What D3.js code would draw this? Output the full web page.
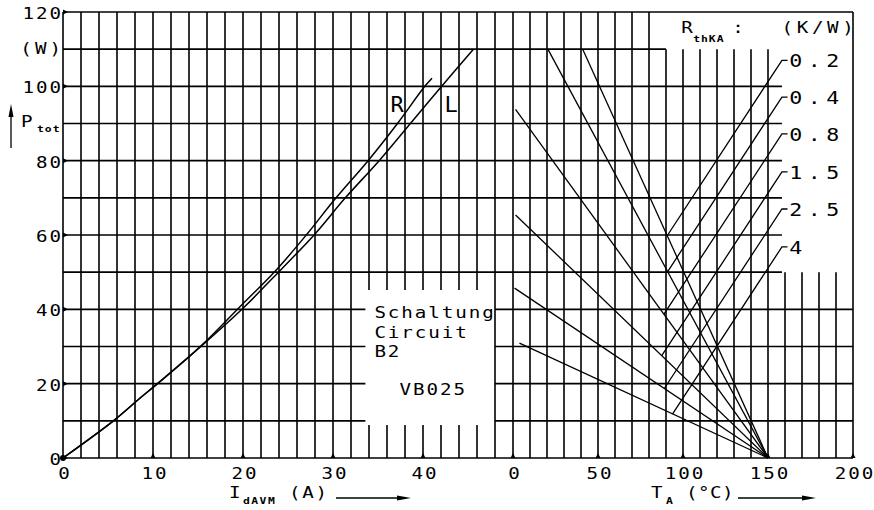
<!DOCTYPE html>
<html>
<head>
<meta charset="utf-8">
<script src="https://cdn.jsdelivr.net/npm/d3@7"></script>
<style>
  body { margin: 0; background: #fff; }
  svg text { font-family: "DejaVu Sans Mono", monospace; fill: #000; }
</style>
</head>
<body>
<svg id="chart"></svg>
<script>
var width = 874, height = 510;

// left part: I_dAVM (A), right part: T_A (deg C), shared P_tot (W)
var iTicks = [0, 10, 20, 30, 40];
var tTicks = [0, 50, 100, 150, 200];
var pTicks = [0, 20, 40, 60, 80, 100, 120];

// P_tot over I_dAVM, curves R and L
var curveRI = [0, 5.6, 8.6, 10.5, 15.4, 19.5, 23.7, 27.1, 30.2, 33.9, 37.1, 40.2, 41.0];
var curveRP = [0, 10, 16.2, 20, 30.3, 40.3, 50.6, 60.2, 69.6, 80.0, 89.8, 100.0, 102.2];
var curveLI = [0, 5.6, 8.6, 10.5, 15.4, 20.0, 24.1, 28.0, 31.3, 35.2, 38.6, 42.1, 45.6];
var curveLP = [0, 10, 16.2, 20, 30.2, 40.3, 50.4, 60.3, 69.8, 80.2, 90.0, 100.1, 110];

// R_thKA lines, all running to (150 C, 0 W)
var rthLabels = ["0.2", "0.4", "0.8", "1.5", "2.5", "4"];
var rthStartT = [41, 20.5, 1.5, 1.5, 0.9, 3.8];
var rthStartP = [110, 110, 93.8, 65.4, 45.7, 30.9];
var rthEndT = 150;
var rthLabelP = [107, 97.1, 87.2, 77, 67, 56.8];
var leaderEndT = [91, 90.9, 88.8, 87.4, 89, 93.8];
var leaderEndP = [60, 50.1, 38.7, 27.5, 18.7, 11.8];

var svg = d3.select('#chart')
  .attr('width', width)
  .attr('height', height);

var xI = d3.scaleLinear().domain([0, 50]).range([63, 513]);
var xT = d3.scaleLinear().domain([0, 200]).range([513, 853]);
var y = d3.scaleLinear().domain([0, 120]).range([458, 12]);

// plotter style text: a bit wider than the font
function label(x, yy, s, o) {
  o = o || {};
  var size = o.size || 16, ls = o.ls == null ? 1.6 : o.ls, sx = o.sx || 1.2;
  var anchor = o.anchor || 'start';
  if (anchor == 'end') x += ls * sx;
  if (anchor == 'middle') x += ls * sx / 2;
  return svg.append('text')
    .attr('transform', 'translate(' + x + ',' + yy + ') scale(' + sx + ',1)')
    .attr('font-size', size)
    .attr('letter-spacing', ls)
    .attr('text-anchor', anchor)
    .attr('font-weight', o.weight || null)
    .attr('font-family', o.family || null)
    .text(s);
}

var grid = svg.append('g')
  .attr('stroke', '#000')
  .attr('stroke-width', 1.6)
  .attr('fill', 'none');

// vertical grid, left part (every 2 A), with a hole for the text box
d3.range(0, 50, 2).forEach(function(v) {
  var segs = (v >= 34 && v <= 46) ? [[0, 8.9], [45.2, 120]] : [[0, 120]];
  segs.forEach(function(s) {
    grid.append('line')
      .attr('x1', xI(v)).attr('x2', xI(v))
      .attr('y1', y(s[0])).attr('y2', y(s[1]));
  });
});

// vertical grid, right part (every 10 C)
d3.range(0, 210, 10).forEach(function(v) {
  var top = 120;
  if (v >= 90 && v <= 150) top = 110;
  if (v >= 160 && v <= 190) top = 50;
  grid.append('line')
    .attr('x1', xT(v)).attr('x2', xT(v))
    .attr('y1', y(0)).attr('y2', y(top));
});

// horizontal grid (every 10 W)
d3.range(0, 130, 10).forEach(function(v) {
  var segs;
  if (v == 0 || v == 120) segs = [[xI(0), xT(200)]];
  else if (v <= 40) segs = [[xI(0), xI(33.6)], [xI(48), xT(200)]];
  else if (v <= 100) segs = [[xI(0), xT(158.2)]];
  else segs = [[xI(0), xT(90)]];
  segs.forEach(function(s) {
    grid.append('line')
      .attr('x1', s[0]).attr('x2', s[1])
      .attr('y1', y(v)).attr('y2', y(v));
  });
});

// tick markers
var marks = svg.append('g').attr('fill', '#000');
pTicks.forEach(function(v) {
  var x0 = xI(0), y0 = y(v);
  marks.append('path')
    .attr('d', 'M' + x0 + ',' + (y0 - 2.5) + 'L' + (x0 + 5) + ',' + y0 + 'L' + x0 + ',' + (y0 + 2.5) + 'Z');
});
iTicks.slice(1).map(xI).concat(tTicks.map(xT)).forEach(function(x0) {
  var y0 = y(0);
  marks.append('path')
    .attr('d', 'M' + (x0 - 2.5) + ',' + y0 + 'L' + x0 + ',' + (y0 - 5) + 'L' + (x0 + 2.5) + ',' + y0 + 'Z');
});
marks.append('circle').attr('cx', xI(0)).attr('cy', y(0)).attr('r', 3);

// R and L curves
var lineI = d3.line()
  .x(function(d) { return xI(d[0]); })
  .y(function(d) { return y(d[1]); })
  .curve(d3.curveCatmullRom.alpha(0.5));

[[curveRI, curveRP], [curveLI, curveLP]].forEach(function(c) {
  svg.append('path')
    .attr('d', lineI(d3.zip(c[0], c[1])))
    .attr('fill', 'none')
    .attr('stroke', '#000')
    .attr('stroke-width', 1.5);
});

// thermal resistance lines and leaders
var th = svg.append('g')
  .attr('stroke', '#000')
  .attr('stroke-width', 1.3)
  .attr('fill', 'none');

rthLabels.forEach(function(lab, i) {
  th.append('line')
    .attr('x1', xT(rthStartT[i])).attr('y1', y(rthStartP[i]))
    .attr('x2', xT(rthEndT)).attr('y2', y(0));
  th.append('path')
    .attr('d', 'M' + xT(leaderEndT[i]) + ',' + y(leaderEndP[i]) +
      'L' + xT(158.2) + ',' + y(rthLabelP[i]) +
      'L' + xT(161.5) + ',' + y(rthLabelP[i]));
  label(xT(162.5), y(rthLabelP[i]) + 7, lab, {size: 18, ls: 4.6, sx: 1.2});
});

// axis numbers
pTicks.forEach(function(v) {
  label(xI(0) - 2, y(v) + 7, v, {anchor: 'end'});
});
label(xI(0) - 2, y(110) + 5, '(W)', {anchor: 'end', ls: 2.5});

iTicks.forEach(function(v) {
  label(xI(v) + 1, 479, v, {anchor: 'middle'});
});
tTicks.forEach(function(v) {
  label(xT(v) + 1, 479, v, {anchor: 'middle'});
});

// axis titles
function arrow(x1, x2, yy) {
  svg.append('line')
    .attr('x1', x1).attr('x2', x2 - 6).attr('y1', yy).attr('y2', yy)
    .attr('stroke', '#000').attr('stroke-width', 1.3);
  svg.append('path')
    .attr('d', 'M' + x2 + ',' + yy + 'L' + (x2 - 14) + ',' + (yy - 2.5) + 'L' + (x2 - 14) + ',' + (yy + 2.5) + 'Z')
    .attr('fill', '#000');
}

label(229, 498, 'I');
label(243, 504, 'dAVM', {size: 9.5, weight: 'bold', ls: 1.2});
label(289, 498, '(A)', {ls: 1.4});
arrow(336, 411, 498);

label(651, 498, 'T');
label(666, 504, 'A', {size: 9.5, weight: 'bold'});
label(686, 498, '(\u00B0C)', {ls: 0.4});
arrow(738, 816, 498);

// P_tot with up arrow
svg.append('line').attr('x1', 11).attr('x2', 11).attr('y1', 148).attr('y2', 112)
  .attr('stroke', '#000').attr('stroke-width', 1.3);
svg.append('path').attr('d', 'M11,104L8.5,117L13.5,117Z').attr('fill', '#000');
label(21, 127, 'P');
label(37, 132, 'tot', {size: 9.5, weight: 'bold', ls: 0.8});

// R / L labels
label(xI(36.4), y(93), 'R', {size: 22, family: 'DejaVu Sans', sx: 1, ls: 0});
label(xI(42.4), y(93), 'L', {size: 22, family: 'DejaVu Sans', sx: 1, ls: 0});

// legend header
label(xT(99), 33, 'R');
label(xT(106), 42, 'thKA', {size: 9.5, weight: 'bold', ls: 0.8});
label(xT(129), 33, ':');
label(xT(158), 33, '(K/W)', {ls: 3});

// circuit box text
['Schaltung', 'Circuit', 'B2'].forEach(function(s, i) {
  label(xI(34.6), 318 + i * 19.5, s);
});
label(xI(37.4), 395, 'VB025');
</script>
</body>
</html>
